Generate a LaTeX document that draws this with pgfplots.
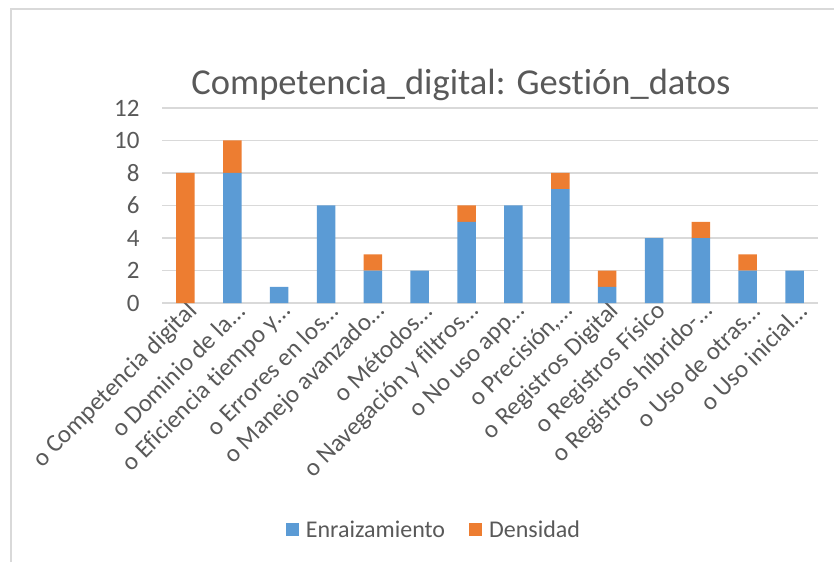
\documentclass[border=0pt]{standalone}
\usepackage{pgfplots}
\pgfplotsset{compat=1.18}
\usepackage{fontspec}
\setmainfont{Carlito}[Ligatures=NoCommon]
\definecolor{cblue}{HTML}{5B9BD5}
\definecolor{corange}{HTML}{ED7D31}
\definecolor{ctext}{HTML}{595959}
\definecolor{cgrid}{HTML}{D9D9D9}
\begin{document}
\begin{tikzpicture}[x=1pt,y=1pt]
\path[use as bounding box] (0,0) rectangle (834,562);
\draw[cgrid, line width=2pt] (11,0) -- (11,553) -- (834,553);
\node[text=ctext, font=\fontsize{36.5}{42}\selectfont] at (461,477) {Competencia\_digital: Gestión\_datos};
\begin{axis}[
  at={(162pt,259pt)}, anchor=south west,
  scale only axis, width=656pt, height=195pt,
  ybar stacked, bar width=18.5pt,
  xmin=-0.5, xmax=13.5, ymin=0, ymax=12,
  ytick={0,2,...,12},
  xtick={0,...,13},
  xticklabels={{o Competencia digital}, {o Dominio de la\dots}, {o Eficiencia tiempo y\dots}, {o Errores en los\dots}, {o Manejo avanzado\dots}, {o Métodos\dots}, {o Navegación y filtros\dots}, {o No uso app\dots}, {o Precisión,\dots}, {o Registros Digital}, {o Registros Físico}, {o Registros híbrido-\dots}, {o Uso de otras\dots}, {o Uso inicial\dots}},
  major tick length=0pt,
  axis line style={draw=none},
  ymajorgrids, grid style={cgrid, line width=1.5pt},
  tick label style={text=ctext, font=\fontsize{25}{30}\selectfont},
  /pgf/number format/assume math mode=true,
  yticklabel style={xshift=-19pt},
  xticklabel style={rotate=45, anchor=east, xshift=6pt, yshift=-9pt},
  legend style={at={(0.4146,-1.164)}, anchor=center, draw=none, fill=none,
    legend columns=2, font=\fontsize{24}{28}\selectfont, text=ctext,
    /tikz/every odd column/.append style={column sep=5pt},
    /tikz/every even column/.append style={column sep=22pt}},
  legend image code/.code={\fill[#1] (0pt,-6.5pt) rectangle (13pt,6.5pt);},
]
\addplot[fill=cblue, draw=none] coordinates {(0,0) (1,8) (2,1) (3,6) (4,2) (5,2) (6,5) (7,6) (8,7) (9,1) (10,4) (11,4) (12,2) (13,2)};
\addplot[fill=corange, draw=none] coordinates {(0,8) (1,2) (2,0) (3,0) (4,1) (5,0) (6,1) (7,0) (8,1) (9,1) (10,0) (11,1) (12,1) (13,0)};
\legend{Enraizamiento, Densidad}
\end{axis}
\end{tikzpicture}
\end{document}
